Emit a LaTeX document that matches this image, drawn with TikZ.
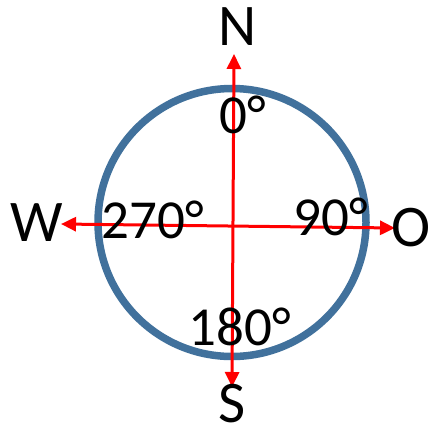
\documentclass[tikz,border=0pt]{standalone}
\usepackage{fontspec}
\setmainfont{Carlito}
\usetikzlibrary{arrows.meta}
\definecolor{ringblue}{RGB}{65,113,156}
\begin{document}
\begin{tikzpicture}[x=1pt,y=-1pt,
  lbl/.style={inner sep=0pt, font=\fontsize{59}{59}\selectfont},
  deg/.style={inner sep=0pt, font=\fontsize{55}{55}\selectfont},
  redarrow/.style={red, line width=3pt, {Triangle[length=15pt,width=14pt]}-{Triangle[length=15pt,width=14pt]}}]
\useasboundingbox (0,0) rectangle (430,433);
\node[draw=ringblue, line width=7.5pt, circle, minimum size=268pt, inner sep=0pt] (ring) at (232,222.5) {};
\coordinate (ntip) at (234,54);
\coordinate (stip) at (232,387);
\coordinate (wtip) at (61,224);
\coordinate (otip) at (395,228);
\draw[redarrow] (ntip) -- (stip);
\draw[redarrow] (wtip) -- (otip);
\node[lbl] (N) at (237.5,27) {N};
\node[lbl] (S) at (232.5,404) {S};
\node[lbl] (W) at (36.5,223) {W};
\node[lbl] (O) at (411,228) {O};
\node[deg] (d0) at (243,114.5) {0°};
\node[deg] (d90) at (331,217) {90°};
\node[deg] (d180) at (240,327) {180°};
\node[deg] (d270) at (152.5,220) {270°};
\end{tikzpicture}
\end{document}
